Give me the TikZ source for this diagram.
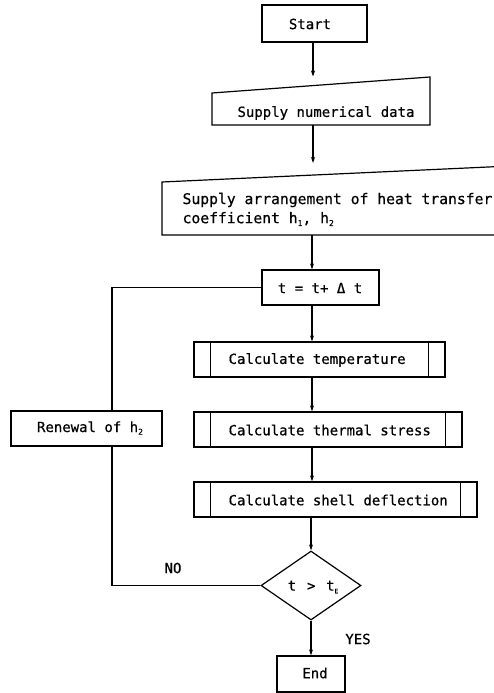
\documentclass[tikz,border=0pt]{standalone}
\usepackage{fontspec}
\setmainfont{DejaVu Sans Mono}[FakeBold=0.6]
\usetikzlibrary{shapes.geometric,arrows.meta}
\newcommand{\lowsub}[1]{\raisebox{-0.35ex}{\fontsize{8}{8}\selectfont #1}}
\begin{document}
\begin{tikzpicture}[x=1pt,y=-1pt,line width=1.2pt,
  font=\fontsize{14}{17}\selectfont,
  box/.style={draw, inner sep=0pt, minimum height=35pt},
  txt/.style={inner sep=0pt},
  arr/.style={-{Stealth[length=6pt,width=4pt]}},
  plain/.style={-}]
\clip (0,0) rectangle (494,693);
% Start
\node[box, minimum width=105pt, minimum height=37pt] (start) at (314.5,23.5) {};
\node[txt] (starttxt) at (310,24) {Start};
% Supply numerical data (manual input)
\draw (212,93) -- (430,77) -- (430,125) -- (212,125) -- cycle;
\node[txt] (datatxt) at (326,113) {Supply numerical data};
\coordinate (dataN) at (314,85.5);
\coordinate (dataS) at (313,125);
% Supply arrangement (manual input, running off the page)
\draw (510,166) -- (162,182) -- (162,235) -- (510,235);
\node[txt, anchor=west, font=\fontsize{14.7}{17}\selectfont] (arrtxt1) at (182,200) {Supply arrangement of heat transfer};
\node[txt, anchor=west, font=\fontsize{14.7}{17}\selectfont] (arrtxt2) at (182,219) {coefficient h\lowsub{1}, h\lowsub{2}};
\coordinate (arrN) at (313,175);
\coordinate (arrS) at (312,235);
% t = t + dt
\node[box, minimum width=117pt] (tbox) at (320.5,287.5) {};
\node[txt] (ttxt) at (320,288) {t = t+ Δ t};
% subroutine boxes
\node[box, minimum width=251pt] (temp) at (319.5,359.5) {};
\node[box, minimum width=268pt] (stress) at (328,429.5) {};
\node[box, minimum width=283pt] (shell) at (335.5,499.5) {};
\foreach \n in {temp,stress,shell}{
  \draw ([xshift=17pt]\n.north west) -- ([xshift=17pt]\n.south west);
  \draw ([xshift=-17pt]\n.north east) -- ([xshift=-17pt]\n.south east);
}
\node[txt, anchor=west] (temptxt) at (228,360) {Calculate temperature};
\node[txt, anchor=west] (stresstxt) at (228,430) {Calculate thermal stress};
\node[txt, anchor=west] (shelltxt) at (228,500) {Calculate shell deflection};
% renewal
\node[box, minimum width=151pt] (renew) at (86.5,428.5) {};
\node[txt] (renewtxt) at (90,428) {Renewal of h\lowsub{2}};
\coordinate (loopx) at (112,0);
% decision
\node[draw, diamond, inner sep=0pt, minimum width=100pt, minimum height=69pt] (dec) at (311,585.5) {};
\node[txt] (dectxt) at (313,587) {t \,>\, t\lowsub{\fontsize{6}{6}\selectfont E}};
% end
\node[box, minimum width=68pt, minimum height=36pt] (end) at (311,674) {};
\node[txt] (endtxt) at (315,673) {End};
% labels
\node[txt] (no) at (173,568) {NO};
\node[txt] (yes) at (358,639) {YES};
% connectors
\draw[arr, shorten >=9pt] (start.south -| dataS) -- (dataN -| dataS);
\draw[arr, shorten >=12pt] (dataS) -- (dataS |- arrN);
\draw[arr] (arrS) -- (arrS |- tbox.north);
\draw[arr] (tbox.south -| arrS) -- (arrS |- temp.north);
\draw[arr] (temp.south -| arrS) -- (arrS |- stress.north);
\draw[arr] (stress.south -| arrS) -- (arrS |- shell.north);
\draw[arr] (shell.south -| dec.north) -- (dec.north);
\draw[arr] (dec.south) -- (dec.south |- end.north);
\draw[plain] (tbox.west) -| (renew.north -| loopx);
\draw[plain] (renew.south -| loopx) |- (dec.west);
\end{tikzpicture}
\end{document}
